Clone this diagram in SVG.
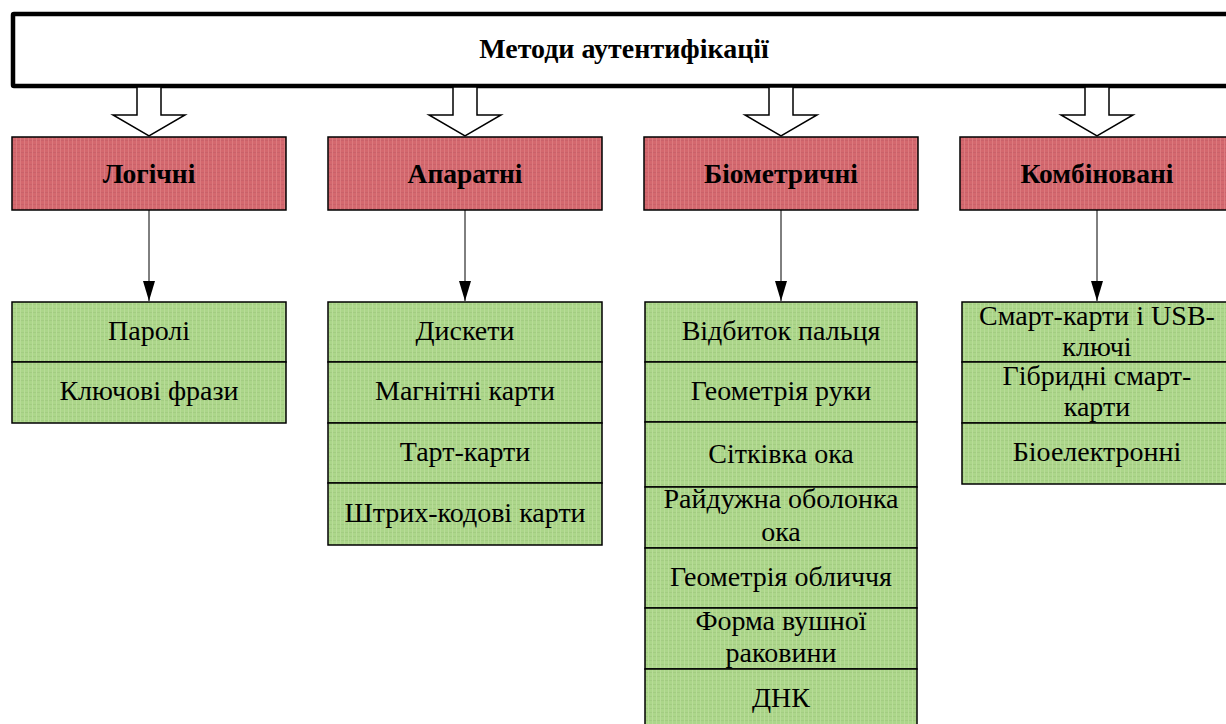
<svg xmlns="http://www.w3.org/2000/svg" width="1226" height="724" viewBox="0 0 1226 724">
<defs>
<pattern id="redp" width="4" height="4" patternUnits="userSpaceOnUse">
<rect width="4" height="4" fill="#d4686e"/>
<rect width="4" height="1" fill="#c9626a"/>
<rect width="1" height="4" fill="#dc7a7e"/>
</pattern>
<pattern id="grnp" width="4" height="4" patternUnits="userSpaceOnUse">
<rect width="4" height="4" fill="#acd68a"/>
<rect width="4" height="1" fill="#a3cc82"/>
<rect width="1" height="4" fill="#b8dc98"/>
</pattern>
<marker id="ah" viewBox="0 0 20 12" refX="20" refY="6" markerWidth="20" markerHeight="12" markerUnits="userSpaceOnUse" orient="auto">
<path d="M0,0 L20,6 L0,12 Z" fill="#000"/>
</marker>
</defs>
<style>
.cat{fill:url(#redp);stroke:#000;stroke-width:1.5}
.item{fill:url(#grnp);stroke:#000;stroke-width:1.5}
.bt{font-family:"Liberation Serif","Times New Roman",serif;font-weight:bold;font-size:27.5px;text-anchor:middle;fill:#000}
.it{font-family:"Liberation Serif","Times New Roman",serif;font-size:28px;text-anchor:middle;fill:#000}
.blk{fill:#fff;stroke:#000;stroke-width:1.5}
.conn{stroke:#000;stroke-width:1;fill:none}
</style>
<g id="root">
<rect x="13" y="14" width="1240" height="72" fill="#fff" stroke="#000" stroke-width="4.5" rx="1"/>
<text class="bt" x="624" y="58" style="font-size:28px">Методи аутентифікації</text>
</g>
<g id="connectors">
<polygon class="blk" points="137,87 161,87 161,115 185,115 149,136 113,115 137,115"/>
<polygon class="blk" points="453,87 477,87 477,115 501,115 465,136 429,115 453,115"/>
<polygon class="blk" points="769,87 793,87 793,115 817,115 781,136 745,115 769,115"/>
<polygon class="blk" points="1085,87 1109,87 1109,115 1133,115 1097,136 1061,115 1085,115"/>
<line class="conn" x1="149" y1="210" x2="149" y2="301" marker-end="url(#ah)"/>
<line class="conn" x1="465" y1="210" x2="465" y2="301" marker-end="url(#ah)"/>
<line class="conn" x1="781" y1="210" x2="781" y2="301" marker-end="url(#ah)"/>
<line class="conn" x1="1097" y1="210" x2="1097" y2="301" marker-end="url(#ah)"/>
</g>
<g id="cat-logical">
<rect class="cat" x="12" y="137" width="274" height="73"/>
<text class="bt" x="149" y="183">Логічні</text>
</g>
<g id="cat-hardware">
<rect class="cat" x="328" y="137" width="274" height="73"/>
<text class="bt" x="465" y="183">Апаратні</text>
</g>
<g id="cat-biometric">
<rect class="cat" x="644" y="137" width="274" height="73"/>
<text class="bt" x="781" y="183">Біометричні</text>
</g>
<g id="cat-combined">
<rect class="cat" x="960" y="137" width="274" height="73"/>
<text class="bt" x="1097" y="183">Комбіновані</text>
</g>
<g id="logical-items">
<rect class="item" x="12" y="302" width="274" height="60"/>
<text class="it" x="149" y="340">Паролі</text>
<rect class="item" x="12" y="362" width="274" height="61"/>
<text class="it" x="149" y="400">Ключові фрази</text>
</g>
<g id="hardware-items">
<rect class="item" x="328" y="302" width="274" height="60"/>
<text class="it" x="465" y="340">Дискети</text>
<rect class="item" x="328" y="362" width="274" height="61"/>
<text class="it" x="465" y="400">Магнітні карти</text>
<rect class="item" x="328" y="423" width="274" height="60"/>
<text class="it" x="465" y="461">Тарт-карти</text>
<rect class="item" x="328" y="483" width="274" height="62"/>
<text class="it" x="465" y="522">Штрих-кодові карти</text>
</g>
<g id="biometric-items">
<rect class="item" x="645" y="302" width="272" height="60"/>
<text class="it" x="781" y="340">Відбиток пальця</text>
<rect class="item" x="645" y="362" width="272" height="60"/>
<text class="it" x="781" y="400">Геометрія руки</text>
<rect class="item" x="645" y="422" width="272" height="65"/>
<text class="it" x="781" y="463">Сітківка ока</text>
<rect class="item" x="645" y="487" width="272" height="61"/>
<text class="it" x="781" y="508">Райдужна оболонка</text>
<text class="it" x="781" y="541">ока</text>
<rect class="item" x="645" y="548" width="272" height="60"/>
<text class="it" x="781" y="586">Геометрія обличчя</text>
<rect class="item" x="645" y="608" width="272" height="61"/>
<text class="it" x="781" y="630">Форма вушної</text>
<text class="it" x="781" y="662">раковини</text>
<rect class="item" x="645" y="669" width="272" height="61"/>
<text class="it" x="781" y="707">ДНК</text>
</g>
<g id="combined-items">
<rect class="item" x="962" y="302" width="272" height="60"/>
<text class="it" x="1097" y="325">Смарт-карти і USB-</text>
<text class="it" x="1097" y="356">ключі</text>
<rect class="item" x="962" y="362" width="272" height="61"/>
<text class="it" x="1097" y="385">Гібридні смарт-</text>
<text class="it" x="1097" y="416">карти</text>
<rect class="item" x="962" y="423" width="272" height="61"/>
<text class="it" x="1097" y="461">Біоелектронні</text>
</g>
</svg>
